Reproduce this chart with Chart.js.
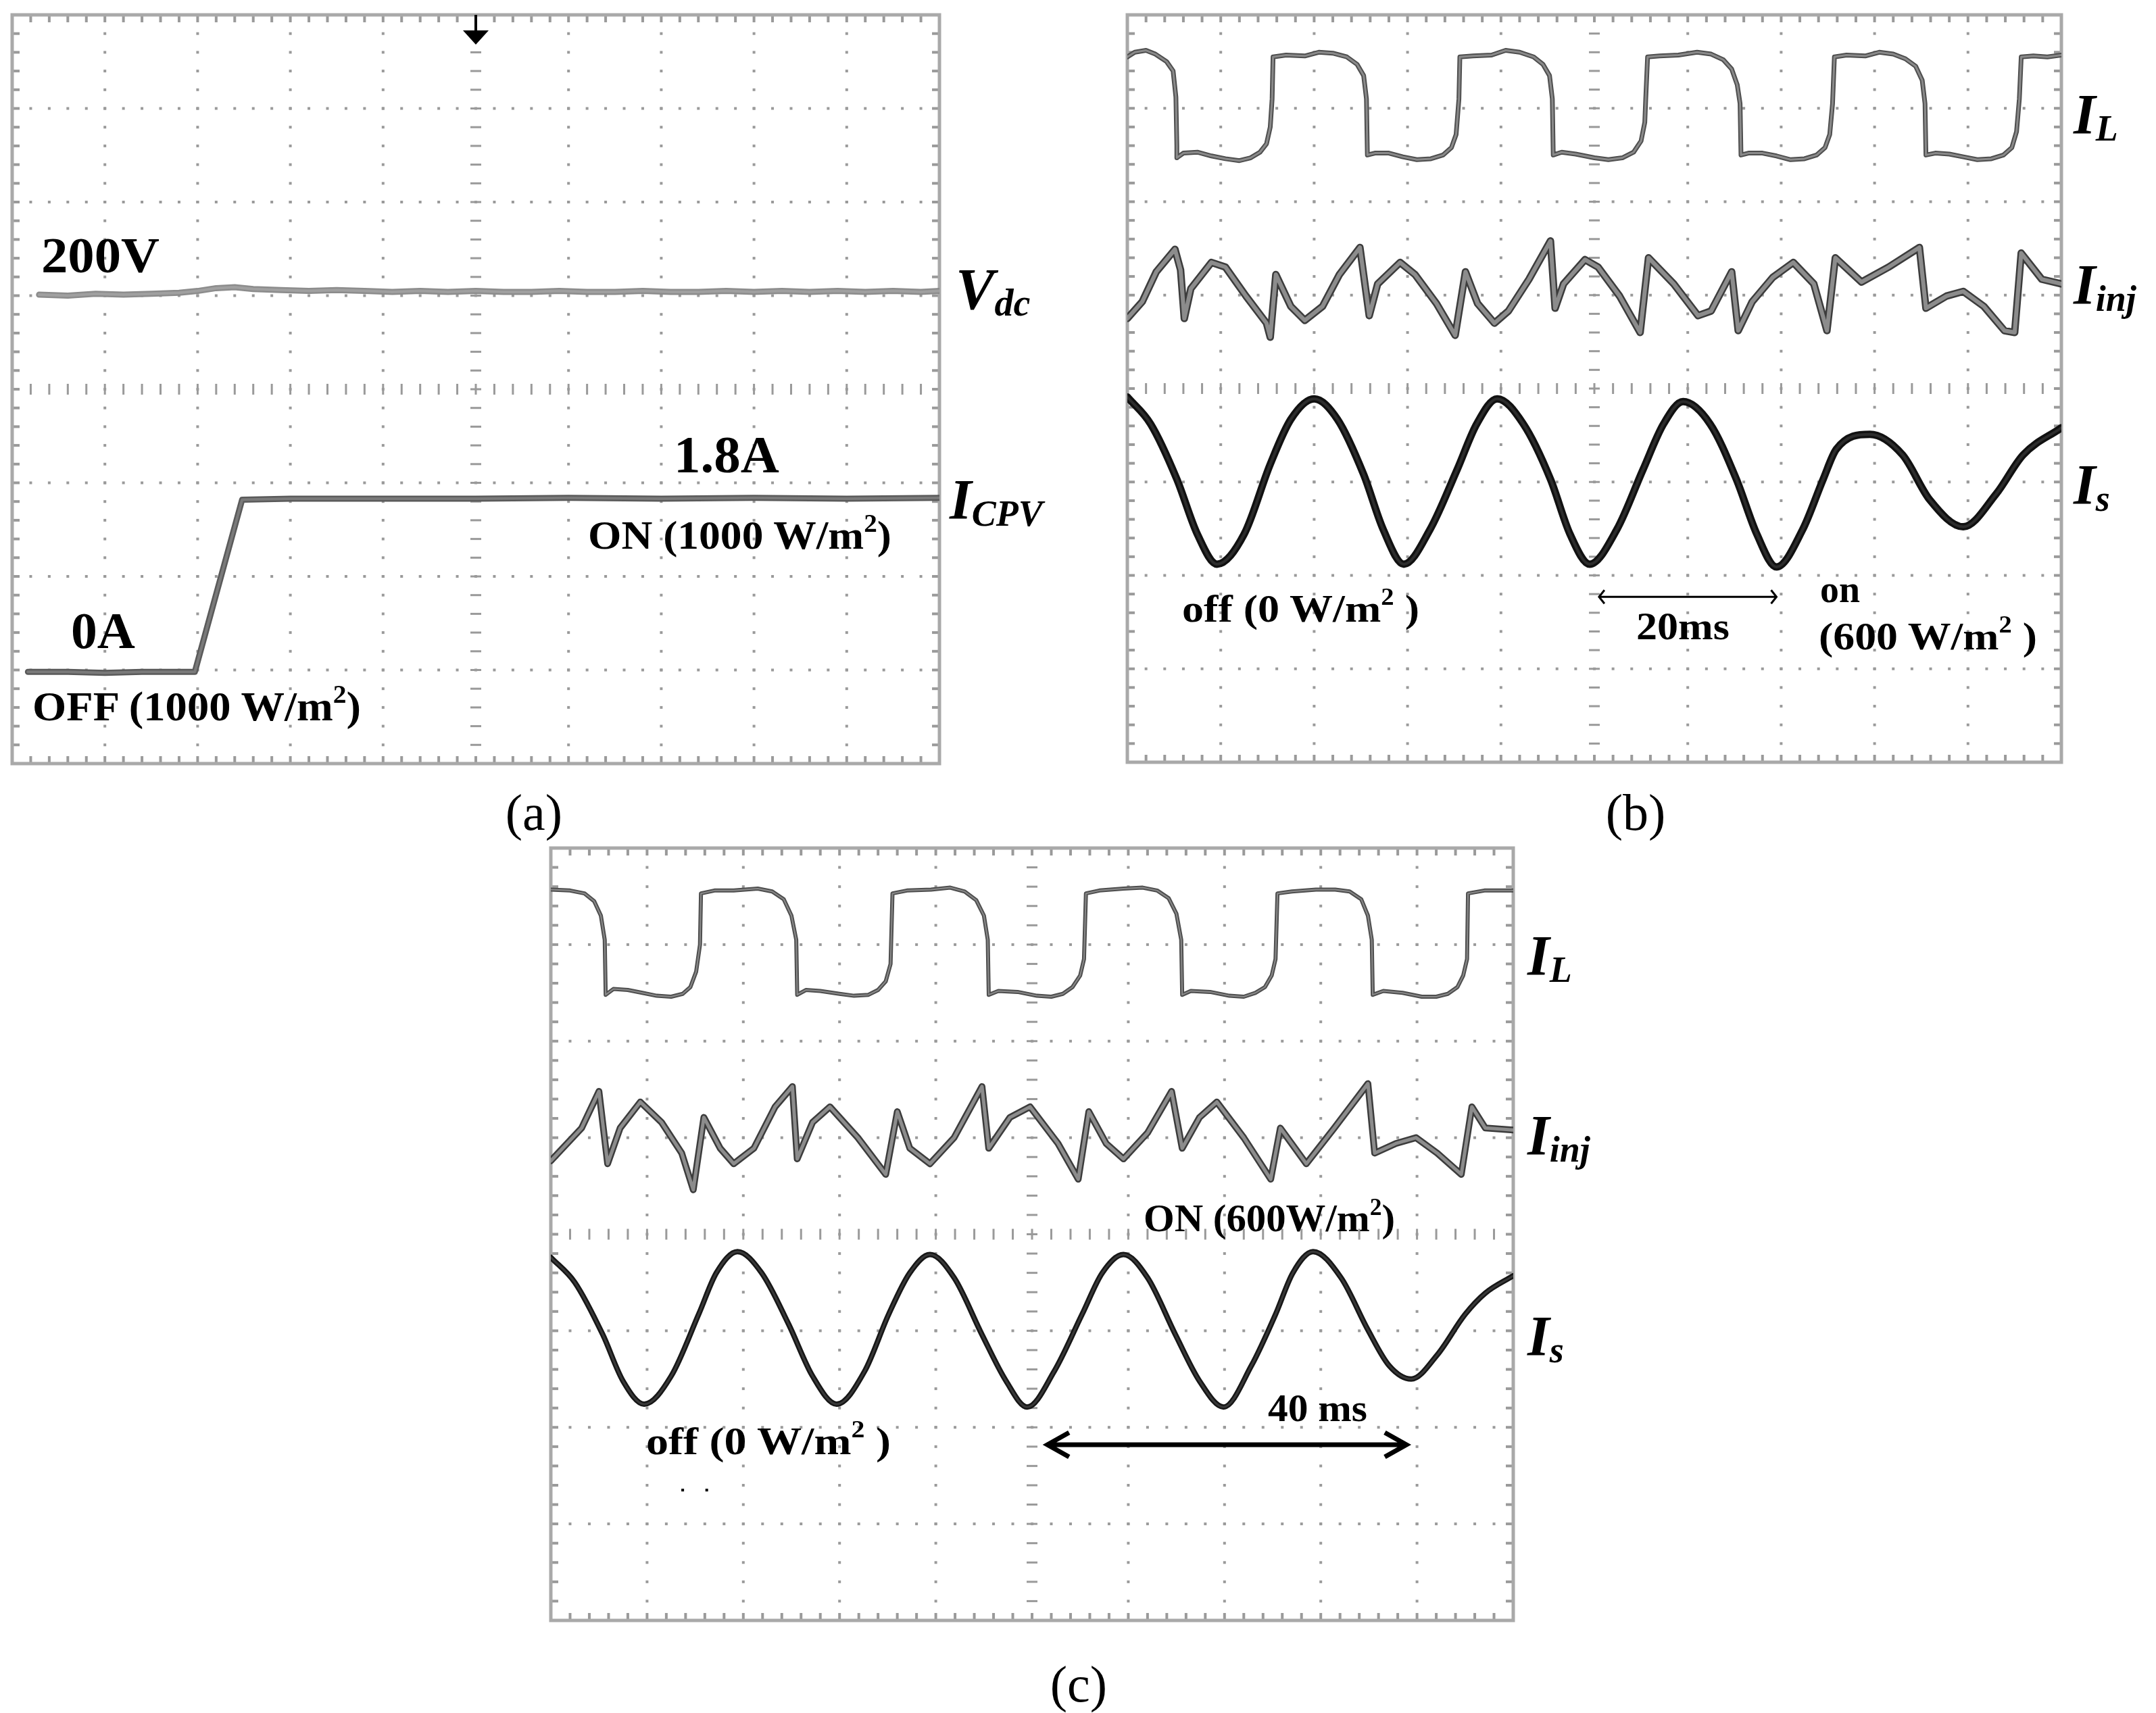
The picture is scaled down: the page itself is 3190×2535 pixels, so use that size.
<!DOCTYPE html>
<html>
<head>
<meta charset="utf-8">
<script src="https://cdn.jsdelivr.net/npm/chart.js@4.4.1/dist/chart.umd.min.js"></script>
<style>
  html, body { margin: 0; padding: 0; background: #fff; }
  #page { position: relative; width: 3190px; height: 2535px; overflow: hidden; background: #fff; }
  canvas { position: absolute; }
  svg { position: absolute; left: 0; top: 0; }
</style>
</head>
<body>
<div id="page">
  <canvas id="scopeA"></canvas>
  <canvas id="scopeB"></canvas>
  <canvas id="scopeC"></canvas>

  <svg width="3190" height="2535" font-family="'Liberation Serif','Times New Roman',serif">
    <!-- annotations inside the screens -->
    <g font-weight="bold" fill="#000">
      <text x="61" y="403" font-size="74" textLength="175" lengthAdjust="spacingAndGlyphs">200V</text>
      <text x="997" y="699" font-size="78" textLength="156" lengthAdjust="spacingAndGlyphs">1.8A</text>
      <text x="105" y="959" font-size="76" textLength="95" lengthAdjust="spacingAndGlyphs">0A</text>
      <text x="48" y="1066" font-size="62" textLength="486" lengthAdjust="spacingAndGlyphs">OFF (1000 W/m<tspan font-size="38" dy="-26">2</tspan><tspan dy="26">)</tspan></text>
      <text x="870" y="812" font-size="60" textLength="449" lengthAdjust="spacingAndGlyphs">ON (1000 W/m<tspan font-size="37" dy="-25">2</tspan><tspan dy="25">)</tspan></text>

      <text x="1749" y="920" font-size="58" textLength="351" lengthAdjust="spacingAndGlyphs">off (0 W/m<tspan font-size="35" dy="-25">2</tspan><tspan dy="25"> )</tspan></text>
      <text x="2421" y="946" font-size="58" textLength="138" lengthAdjust="spacingAndGlyphs">20ms</text>
      <text x="2693" y="891" font-size="58" textLength="59" lengthAdjust="spacingAndGlyphs">on</text>
      <text x="2691" y="961" font-size="58" textLength="323" lengthAdjust="spacingAndGlyphs">(600 W/m<tspan font-size="35" dy="-25">2</tspan><tspan dy="25"> )</tspan></text>

      <text x="1692" y="1822" font-size="58" textLength="372" lengthAdjust="spacingAndGlyphs">ON (600W/m<tspan font-size="35" dy="-24">2</tspan><tspan dy="24">)</tspan></text>
      <text x="956" y="2152" font-size="58" textLength="362" lengthAdjust="spacingAndGlyphs">off (0 W/m<tspan font-size="35" dy="-25">2</tspan><tspan dy="25"> )</tspan></text>
      <text x="1876" y="2103" font-size="58" textLength="147" lengthAdjust="spacingAndGlyphs">40 ms</text>
    </g>

    <!-- trace names -->
    <g font-weight="bold" font-style="italic" fill="#000">
      <text x="1414" y="457" font-size="86">V<tspan font-size="56" dy="10">dc</tspan></text>
      <text x="1405" y="768" font-size="84">I<tspan font-size="54" dy="10">CPV</tspan></text>
      <text x="3068" y="198" font-size="84">I<tspan font-size="54" dy="10">L</tspan></text>
      <text x="3068" y="450" font-size="84">I<tspan font-size="54" dy="10">inj</tspan></text>
      <text x="3068" y="746" font-size="84">I<tspan font-size="54" dy="10">s</tspan></text>
      <text x="2260" y="1443" font-size="84">I<tspan font-size="54" dy="10">L</tspan></text>
      <text x="2260" y="1709" font-size="84">I<tspan font-size="54" dy="10">inj</tspan></text>
      <text x="2260" y="2006" font-size="84">I<tspan font-size="54" dy="10">s</tspan></text>
    </g>

    <!-- panel letters -->
    <g font-size="76" fill="#000" text-anchor="middle">
      <text x="790" y="1228">(a)</text>
      <text x="2420" y="1228">(b)</text>
      <text x="1596" y="2518">(c)</text>
    </g>
  </svg>
</div>

<script>
// values in screen divisions: x 0..10, y 0..8 (from the bottom edge)

// (a) DC-link voltage and CPV current
const aVdc = [[0.29,5.01],[0.6,5.00],[0.9,5.02],[1.2,5.01],[1.5,5.02],[1.8,5.03],[2.0,5.05],[2.2,5.08],
  [2.4,5.09],[2.6,5.07],[2.9,5.06],[3.2,5.05],[3.5,5.06],[3.8,5.05],[4.1,5.04],[4.4,5.05],[4.7,5.04],
  [5.0,5.05],[5.3,5.04],[5.6,5.04],[5.9,5.05],[6.2,5.04],[6.5,5.04],[6.8,5.05],[7.1,5.04],[7.4,5.04],
  [7.7,5.05],[8.0,5.04],[8.3,5.05],[8.6,5.04],[8.9,5.05],[9.2,5.04],[9.5,5.05],[9.8,5.04],[10,5.05]];
const aIcpv = [[0.17,0.98],[0.6,0.98],[1.0,0.97],[1.4,0.98],[1.8,0.98],[1.97,0.98],[2.48,2.82],
  [3.0,2.83],[4.0,2.83],[5.0,2.83],[6.0,2.84],[7.0,2.83],[8.0,2.84],[9.0,2.83],[10,2.84]];

// (b) load current, injected current, source current
const bIL = [[0,7.55],[0.08,7.60],[0.2,7.62],[0.3,7.58],[0.42,7.50],[0.49,7.40],[0.52,7.12],[0.53,6.60],[0.53,6.47],
  [0.6,6.52],[0.75,6.53],[0.9,6.49],[1.05,6.46],[1.2,6.44],[1.32,6.47],[1.42,6.53],[1.49,6.62],[1.53,6.80],[1.55,7.10],[1.56,7.55],
  [1.7,7.57],[1.9,7.56],[2.05,7.60],[2.2,7.59],[2.35,7.55],[2.46,7.47],[2.53,7.35],[2.56,7.10],[2.57,6.50],
  [2.65,6.52],[2.8,6.52],[2.95,6.48],[3.1,6.45],[3.25,6.46],[3.38,6.50],[3.47,6.58],[3.52,6.72],[3.55,7.10],[3.56,7.55],
  [3.7,7.56],[3.9,7.57],[4.05,7.62],[4.2,7.60],[4.35,7.55],[4.45,7.47],[4.52,7.35],[4.55,7.10],[4.56,6.50],
  [4.65,6.53],[4.8,6.51],[5.0,6.47],[5.15,6.45],[5.3,6.47],[5.42,6.53],[5.5,6.65],[5.54,6.85],[5.55,7.10],[5.57,7.55],
  [5.7,7.56],[5.9,7.57],[6.1,7.60],[6.25,7.58],[6.38,7.52],[6.47,7.42],[6.53,7.25],[6.56,7.05],[6.57,6.50],
  [6.65,6.52],[6.8,6.52],[6.95,6.49],[7.1,6.45],[7.25,6.46],[7.38,6.50],[7.47,6.58],[7.52,6.72],[7.55,7.05],[7.57,7.55],
  [7.7,7.57],[7.9,7.56],[8.05,7.60],[8.2,7.58],[8.33,7.53],[8.44,7.45],[8.51,7.30],[8.54,7.05],[8.55,6.50],
  [8.65,6.52],[8.8,6.51],[8.95,6.48],[9.1,6.45],[9.25,6.46],[9.38,6.50],[9.47,6.58],[9.52,6.75],[9.55,7.10],[9.57,7.55],
  [9.7,7.56],[9.85,7.55],[10,7.57]];
const bIinj = [[0,4.75],[0.16,4.93],[0.31,5.25],[0.51,5.49],[0.57,5.27],[0.61,4.75],[0.68,5.07],[0.9,5.35],
  [1.05,5.30],[1.27,4.99],[1.49,4.70],[1.53,4.55],[1.59,5.22],[1.75,4.88],[1.9,4.73],[2.09,4.88],[2.27,5.22],
  [2.49,5.51],[2.59,4.78],[2.68,5.12],[2.92,5.35],[3.08,5.22],[3.31,4.91],[3.51,4.57],[3.62,5.25],[3.75,4.91],
  [3.93,4.70],[4.08,4.83],[4.3,5.17],[4.53,5.58],[4.58,4.86],[4.67,5.12],[4.9,5.38],[5.04,5.30],[5.27,4.99],
  [5.49,4.60],[5.58,5.40],[5.85,5.12],[6.11,4.78],[6.25,4.83],[6.47,5.25],[6.54,4.62],[6.69,4.93],[6.91,5.19],
  [7.13,5.35],[7.35,5.12],[7.49,4.62],[7.58,5.40],[7.86,5.14],[8.15,5.30],[8.48,5.51],[8.55,4.86],[8.77,4.99],
  [8.95,5.04],[9.17,4.88],[9.39,4.62],[9.5,4.60],[9.57,5.45],[9.79,5.17],[10,5.12]];
const bIs = [[0,3.91],[0.25,3.62],[0.53,3.03],[0.75,2.44],[0.96,2.12],[1.25,2.44],[1.53,3.19],[1.75,3.67],
  [2.0,3.89],[2.25,3.67],[2.53,3.08],[2.74,2.49],[2.96,2.12],[3.24,2.49],[3.53,3.13],[3.74,3.62],[3.96,3.89],
  [4.24,3.62],[4.53,3.03],[4.74,2.44],[4.95,2.12],[5.24,2.49],[5.52,3.13],[5.74,3.62],[5.95,3.86],[6.24,3.62],
  [6.52,3.03],[6.74,2.44],[6.95,2.09],[7.23,2.49],[7.45,3.03],[7.59,3.35],[7.95,3.51],[8.3,3.29],[8.59,2.81],
  [8.95,2.52],[9.3,2.87],[9.59,3.29],[10,3.58]];

// (c) same three currents, longer record
const cIL = [[0,7.57],[0.2,7.56],[0.35,7.53],[0.45,7.45],[0.52,7.30],[0.56,7.05],[0.57,6.48],
  [0.65,6.54],[0.8,6.53],[0.95,6.50],[1.1,6.47],[1.25,6.46],[1.37,6.49],[1.45,6.56],[1.51,6.72],[1.55,7.00],[1.56,7.53],
  [1.7,7.56],[1.9,7.56],[2.15,7.58],[2.3,7.55],[2.42,7.47],[2.5,7.30],[2.55,7.05],[2.56,6.48],
  [2.65,6.53],[2.8,6.52],[3.0,6.49],[3.15,6.47],[3.3,6.48],[3.4,6.53],[3.48,6.62],[3.53,6.80],[3.55,7.53],
  [3.7,7.56],[3.95,7.57],[4.15,7.59],[4.3,7.55],[4.42,7.46],[4.5,7.30],[4.54,7.05],[4.55,6.48],
  [4.65,6.52],[4.85,6.51],[5.05,6.47],[5.2,6.46],[5.32,6.49],[5.42,6.56],[5.5,6.68],[5.54,6.85],[5.56,7.53],
  [5.7,7.56],[5.95,7.58],[6.15,7.59],[6.3,7.56],[6.42,7.48],[6.5,7.32],[6.55,7.05],[6.56,6.48],
  [6.65,6.52],[6.85,6.51],[7.05,6.47],[7.2,6.46],[7.32,6.50],[7.42,6.56],[7.49,6.68],[7.53,6.85],[7.55,7.53],
  [7.7,7.55],[7.95,7.57],[8.15,7.57],[8.3,7.55],[8.42,7.47],[8.49,7.30],[8.53,7.05],[8.54,6.48],
  [8.65,6.52],[8.85,6.50],[9.05,6.46],[9.2,6.46],[9.32,6.49],[9.42,6.56],[9.48,6.68],[9.52,6.85],[9.53,7.53],
  [9.7,7.56],[10,7.56]];
const cIinj = [[0,4.76],[0.32,5.10],[0.5,5.48],[0.59,4.73],[0.72,5.10],[0.93,5.37],[1.15,5.16],[1.36,4.84],
  [1.48,4.46],[1.59,5.21],[1.76,4.89],[1.9,4.73],[2.11,4.89],[2.33,5.32],[2.51,5.53],[2.56,4.78],[2.72,5.16],
  [2.9,5.32],[3.19,5.00],[3.48,4.62],[3.6,5.27],[3.73,4.89],[3.94,4.73],[4.19,5.00],[4.48,5.53],[4.55,4.89],
  [4.77,5.21],[4.98,5.32],[5.27,4.94],[5.48,4.57],[5.59,5.27],[5.77,4.94],[5.95,4.78],[6.2,5.05],[6.45,5.48],
  [6.56,4.89],[6.74,5.21],[6.92,5.37],[7.2,5.00],[7.48,4.57],[7.58,5.10],[7.85,4.73],[8.14,5.10],[8.49,5.56],
  [8.56,4.84],[8.78,4.94],[8.99,5.00],[9.21,4.84],[9.46,4.62],[9.57,5.32],[9.71,5.10],[10,5.08]];
const cIs = [[0,3.76],[0.25,3.50],[0.54,2.96],[0.75,2.48],[0.97,2.24],[1.25,2.53],[1.54,3.18],[1.72,3.60],
  [1.94,3.82],[2.19,3.60],[2.47,3.07],[2.72,2.53],[2.97,2.24],[3.26,2.58],[3.51,3.17],[3.73,3.60],[3.94,3.79],
  [4.19,3.55],[4.48,2.96],[4.73,2.48],[4.95,2.21],[5.23,2.58],[5.52,3.17],[5.73,3.60],[5.95,3.79],[6.2,3.55],
  [6.49,2.96],[6.74,2.48],[6.99,2.21],[7.28,2.64],[7.53,3.17],[7.71,3.60],[7.92,3.82],[8.21,3.55],[8.49,3.01],
  [8.71,2.64],[8.94,2.50],[9.21,2.75],[9.5,3.17],[9.71,3.39],[10,3.57]];

const PAD = 12;
const boxes = {
  scopeA: { left: 18, top: 22, right: 1390, bottom: 1130 },
  scopeB: { left: 1668, top: 22, right: 3050, bottom: 1128 },
  scopeC: { left: 815, top: 1255, right: 2239, bottom: 2398 }
};

// oscilloscope graticule: dotted divisions, ticked centre axes, ticked frame
const scopeGrid = {
  id: 'scopeGrid',
  beforeDatasetsDraw(chart) {
    const ctx = chart.ctx, a = chart.chartArea;
    const X = v => chart.scales.x.getPixelForValue(v);
    const Y = v => chart.scales.y.getPixelForValue(v);
    ctx.save();
    ctx.fillStyle = '#9a9a9a';
    for (let i = 1; i < 10; i++) {
      if (i === 5) continue;
      for (let j = 1; j < 40; j++) ctx.fillRect(X(i) - 2, Y(j / 5) - 2, 4, 4);
    }
    for (let k = 1; k < 8; k++) {
      if (k === 4) continue;
      for (let j = 1; j < 50; j++) ctx.fillRect(X(j / 5) - 2, Y(k) - 2, 4, 4);
    }
    for (let j = 1; j < 50; j++) ctx.fillRect(X(j / 5) - 1.5, Y(4) - 8, 3, 16);
    for (let j = 1; j < 40; j++) ctx.fillRect(X(5) - 8, Y(j / 5) - 1.5, 16, 3);
    for (let j = 1; j < 50; j++) {
      ctx.fillRect(X(j / 5) - 2, a.top, 4, 11);
      ctx.fillRect(X(j / 5) - 2, a.bottom - 11, 4, 11);
    }
    for (let j = 1; j < 40; j++) {
      ctx.fillRect(a.left, Y(j / 5) - 2, 11, 4);
      ctx.fillRect(a.right - 11, Y(j / 5) - 2, 11, 4);
    }
    ctx.strokeStyle = '#a9a9a9';
    ctx.lineWidth = 5;
    ctx.strokeRect(a.left, a.top, a.right - a.left, a.bottom - a.top);
    ctx.restore();
  },
  afterDatasetsDraw(chart, args, opts) {
    const ctx = chart.ctx, a = chart.chartArea;
    const X = v => chart.scales.x.getPixelForValue(v);
    const Y = v => chart.scales.y.getPixelForValue(v);
    ctx.save();
    ctx.fillStyle = '#000';
    ctx.strokeStyle = '#000';
    if (opts.trigger) {
      const cx = X(5);
      ctx.fillRect(cx - 2, a.top, 4, 25);
      ctx.beginPath();
      ctx.moveTo(cx - 19, a.top + 23);
      ctx.lineTo(cx + 19, a.top + 23);
      ctx.lineTo(cx, a.top + 44);
      ctx.closePath();
      ctx.fill();
    }
    (opts.arrows || []).forEach(function(ar) {
      const x1 = X(ar.from), x2 = X(ar.to), y = Y(ar.y);
      ctx.lineWidth = ar.width;
      ctx.lineJoin = 'miter';
      ctx.beginPath();
      ctx.moveTo(x1, y); ctx.lineTo(x2, y);
      ctx.moveTo(x1 + ar.dx, y - ar.dy); ctx.lineTo(x1, y); ctx.lineTo(x1 + ar.dx, y + ar.dy);
      ctx.moveTo(x2 - ar.dx, y - ar.dy); ctx.lineTo(x2, y); ctx.lineTo(x2 - ar.dx, y + ar.dy);
      ctx.stroke();
    });
    (opts.dots || []).forEach(function(d) {
      ctx.fillRect(X(d[0]) - 2, Y(d[1]) - 2, 4, 4);
    });
    ctx.restore();
  }
};

function toPoints(arr) {
  return arr.map(p => ({ x: p[0], y: p[1] }));
}

function makeScope(id, traces, marks) {
  const b = boxes[id];
  const cv = document.getElementById(id);
  cv.width = b.right - b.left + 2 * PAD;
  cv.height = b.bottom - b.top + 2 * PAD;
  cv.style.left = (b.left - PAD) + 'px';
  cv.style.top = (b.top - PAD) + 'px';

  const datasets = [];
  traces.forEach(function(t) {
    const common = {
      pointRadius: 0,
      tension: 0,
      cubicInterpolationMode: t.smooth ? 'monotone' : 'default',
      borderJoinStyle: 'round',
      borderCapStyle: 'round',
      fill: false
    };
    datasets.push(Object.assign({ data: toPoints(t.data), borderColor: t.outer, borderWidth: t.outerW, order: 1 }, common));
    datasets.push(Object.assign({ data: toPoints(t.data), borderColor: t.inner, borderWidth: t.innerW, order: 0 }, common));
  });

  return new Chart(cv, {
    type: 'line',
    data: { datasets: datasets },
    options: {
      responsive: false,
      animation: false,
      devicePixelRatio: 1,
      events: [],
      layout: { padding: PAD },
      plugins: {
        legend: { display: false },
        tooltip: { enabled: false },
        scopeGrid: marks
      },
      scales: {
        x: { type: 'linear', min: 0, max: 10, display: false },
        y: { type: 'linear', min: 0, max: 8, display: false }
      }
    },
    plugins: [scopeGrid]
  });
}

makeScope('scopeA', [
  { data: aVdc, outer: '#8c8c8c', outerW: 9, inner: '#a0a0a0', innerW: 4 },
  { data: aIcpv, outer: '#5a5a5a', outerW: 9, inner: '#7a7a7a', innerW: 4 }
], { trigger: true });

makeScope('scopeB', [
  { data: bIL, outer: '#4e4e4e', outerW: 7, inner: '#8a8a8a', innerW: 3 },
  { data: bIinj, outer: '#3c3c3c', outerW: 11, inner: '#8c8c8c', innerW: 6 },
  { data: bIs, outer: '#111111', outerW: 11, inner: '#2c2c2c', innerW: 4, smooth: true }
], { arrows: [{ from: 5.05, to: 6.95, y: 1.77, width: 3, dx: 8, dy: 10 }] });

makeScope('scopeC', [
  { data: cIL, outer: '#4e4e4e', outerW: 6, inner: '#8a8a8a', innerW: 2 },
  { data: cIinj, outer: '#3c3c3c', outerW: 10, inner: '#8c8c8c', innerW: 5 },
  { data: cIs, outer: '#161616', outerW: 8, inner: '#383838', innerW: 3, smooth: true }
], {
  arrows: [{ from: 5.16, to: 8.89, y: 1.82, width: 7, dx: 32, dy: 18 }],
  dots: [[1.37, 1.35], [1.62, 1.35]]
});
</script>
</body>
</html>
